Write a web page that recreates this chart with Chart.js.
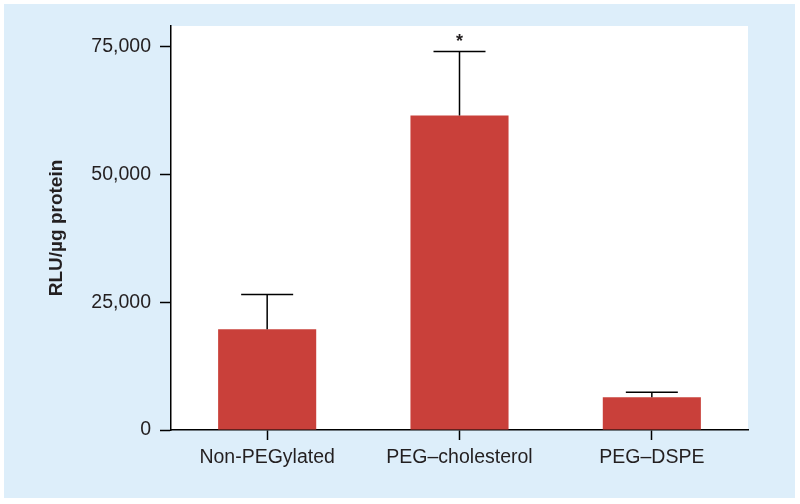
<!DOCTYPE html>
<html>
<head>
<meta charset="utf-8">
<script src="https://cdn.jsdelivr.net/npm/chart.js@4.4.1/dist/chart.umd.min.js"></script>
<style>
  html, body { margin: 0; padding: 0; background: #ffffff; }
  #wrap { width: 800px; height: 504px; }
</style>
</head>
<body>
<div id="wrap"><canvas id="chart" width="800" height="504"></canvas></div>
<script>
// values
var categories = ['Non-PEGylated', 'PEG\u2013cholesterol', 'PEG\u2013DSPE'];
var means = [19700, 61500, 6400];
var errors = [6800, 12500, 1000];
var marks = ['', '*', ''];
var yTicks = [0, 25000, 50000, 75000];

var textColor = '#231f20';
var fontFamily = "'Liberation Sans', Arial, Helvetica, sans-serif";

// light blue panel behind everything, white plot area
var panelPlugin = {
    id: 'panel',
    beforeDraw: function(chart) {
        var ctx = chart.ctx;
        var area = chart.chartArea;
        ctx.save();
        ctx.fillStyle = '#ddeefa';
        ctx.fillRect(4, 4, 791, 494);
        ctx.fillStyle = '#ffffff';
        ctx.fillRect(area.left, area.top, area.right - area.left, area.bottom - area.top);
        ctx.restore();
    }
};

// upward error bars and the significance star
var errorPlugin = {
    id: 'errorBars',
    afterDatasetsDraw: function(chart) {
        var ctx = chart.ctx;
        var meta = chart.getDatasetMeta(0);
        var y = chart.scales.y;
        ctx.save();
        ctx.strokeStyle = '#000000';
        ctx.lineWidth = 1.5;
        meta.data.forEach(function(bar, i) {
            var top = y.getPixelForValue(means[i] + errors[i]);
            var base = y.getPixelForValue(means[i]);
            ctx.beginPath();
            ctx.moveTo(bar.x, base);
            ctx.lineTo(bar.x, top);
            ctx.moveTo(bar.x - 26, top);
            ctx.lineTo(bar.x + 26, top);
            ctx.stroke();
            if (marks[i]) {
                ctx.fillStyle = textColor;
                ctx.font = 'bold 18px ' + fontFamily;
                ctx.textAlign = 'center';
                ctx.textBaseline = 'middle';
                ctx.fillText(marks[i], bar.x, top - 10);
            }
        });
        ctx.restore();
    }
};

var ctx = document.getElementById('chart').getContext('2d');
var chart = new Chart(ctx, {
    type: 'bar',
    data: {
        labels: categories,
        datasets: [{
            data: means,
            backgroundColor: '#c9403a',
            borderWidth: 0,
            barPercentage: 0.51,
            categoryPercentage: 1.0
        }]
    },
    options: {
        responsive: false,
        animation: false,
        layout: { padding: { top: 26, right: 52, left: 0, bottom: 0 } },
        plugins: {
            legend: { display: false },
            tooltip: { enabled: false }
        },
        scales: {
            x: {
                grid: {
                    offset: false,
                    drawOnChartArea: false,
                    drawTicks: true,
                    tickLength: 10,
                    tickColor: '#000000',
                    tickWidth: 1.5
                },
                border: { display: true, color: '#000000', width: 1.5 },
                ticks: {
                    color: textColor,
                    padding: 6,
                    maxRotation: 0,
                    font: { family: fontFamily, size: 19.5 }
                },
                afterFit: function(scale) { scale.height = 74; }
            },
            y: {
                min: 0,
                max: 79000,
                afterBuildTicks: function(scale) {
                    scale.ticks = yTicks.map(function(v) { return { value: v }; });
                },
                grid: {
                    drawOnChartArea: false,
                    drawTicks: true,
                    tickLength: 11,
                    tickColor: '#000000',
                    tickWidth: 1.5
                },
                border: { display: true, color: '#000000', width: 1.5 },
                ticks: {
                    color: textColor,
                    padding: 9,
                    font: { family: fontFamily, size: 19.5 },
                    callback: function(v) { return Number(v).toLocaleString('en-US'); }
                },
                title: {
                    display: true,
                    text: 'RLU/\u00b5g protein',
                    color: textColor,
                    padding: { top: 45, bottom: 0 },
                    font: { family: fontFamily, size: 19, weight: 'bold' }
                },
                afterFit: function(scale) { scale.width = 171; }
            }
        }
    },
    plugins: [panelPlugin, errorPlugin]
});
</script>
</body>
</html>
